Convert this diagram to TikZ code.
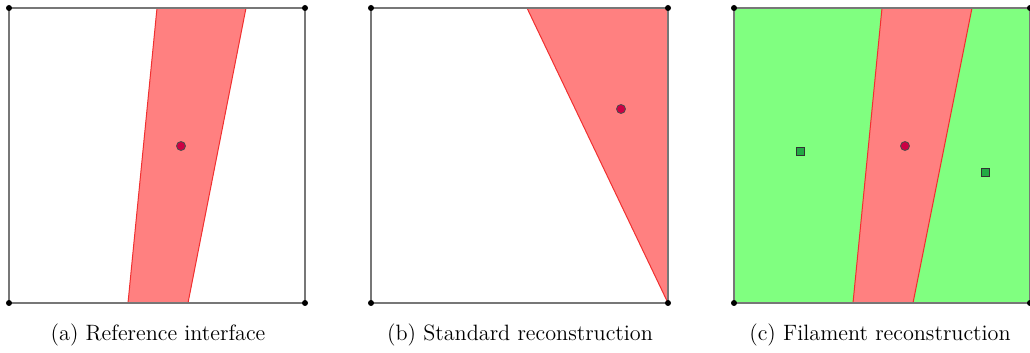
\documentclass[tikz,border=0pt]{standalone}
\usepackage{xcolor}
\usepackage{tikz}
\usetikzlibrary{positioning}
\definecolor{frame}{HTML}{777777}
\definecolor{phasered}{HTML}{FF8080}
\definecolor{edgered}{HTML}{F03030}
\definecolor{phasegreen}{HTML}{80FF80}
\definecolor{dotred}{HTML}{CC0044}
\definecolor{dotgreen}{HTML}{22AA44}
\tikzset{
  cell/.style={draw=frame, line width=0.6pt},
  liquid/.style={fill=phasered, draw=edgered, line width=0.5pt},
  gas/.style={fill=phasegreen},
  corner/.style={circle, fill=black, inner sep=0pt, minimum size=3pt},
  centroid/.style={circle, fill=dotred, draw=black!70, line width=0.4pt, inner sep=0pt, minimum size=4.5pt},
  gcentroid/.style={rectangle, fill=dotgreen, draw=black!80, line width=0.4pt, inner sep=0pt, minimum size=4pt},
  caption/.style={font=\fontsize{11.1pt}{13.5pt}\selectfont, anchor=center},
}
\begin{document}
\begin{tikzpicture}[x=0.5pt, y=-0.5pt]
  \useasboundingbox (0,0) rectangle (1030,353);

  % ---- (a) reference interface ----
  \fill[liquid] (157,8) -- (246,8) -- (188,303) -- (128,303) -- cycle;
  \draw[cell] (9,8) rectangle (305,303);
  \node[centroid] (ca) at (181,146) {};
  \foreach \p [count=\i] in {(9,8),(305,8),(9,303),(305,303)}
    \node[corner] (a\i) at \p {};
  \node[caption] (capa) at (158,335) {(a) Reference interface};

  % ---- (b) standard reconstruction ----
  \fill[liquid] (527,8) -- (668,8) -- (668,303) -- cycle;
  \draw[cell] (371,8) rectangle (668,303);
  \node[centroid] (cb) at (621,109) {};
  \foreach \p [count=\i] in {(371,8),(668,8),(371,303),(668,303)}
    \node[corner] (b\i) at \p {};
  \node[caption] (capb) at (520,335) {(b) Standard reconstruction};

  % ---- (c) filament reconstruction ----
  \fill[gas] (734,8) rectangle (1030,303);
  \fill[liquid] (882,8) -- (972,8) -- (913,303) -- (853,303) -- cycle;
  \draw[cell] (734,8) rectangle (1030,303);
  \node[centroid] (cc) at (905,146) {};
  \node[gcentroid] (gl) at (800,151) {};
  \node[gcentroid] (gr) at (985,172) {};
  \foreach \p [count=\i] in {(734,8),(1030,8),(734,303),(1030,303)}
    \node[corner] (c\i) at \p {};
  \node[caption] (capc) at (880,335) {(c) Filament reconstruction};
\end{tikzpicture}
\end{document}
